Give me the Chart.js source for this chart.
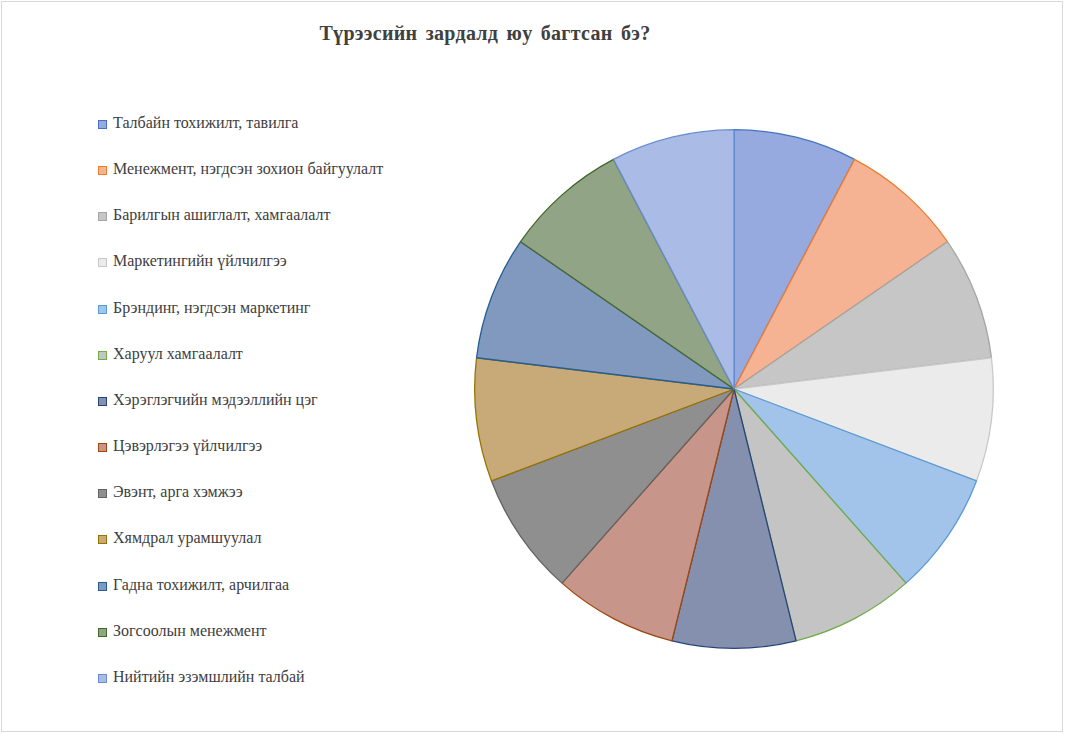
<!DOCTYPE html>
<html><head><meta charset="utf-8">
<script src="https://cdn.jsdelivr.net/npm/chart.js@4/dist/chart.umd.min.js"></script>
<style>
body{margin:0;background:#fff;}
#wrap{position:relative;width:1066px;height:735px;}
#frame{position:absolute;left:1px;top:1px;width:1062px;height:731px;border:1px solid #d9d9d9;box-sizing:border-box;}
#title{position:absolute;left:0;width:970px;top:22px;text-align:center;font:bold 20px "Liberation Serif";color:#404040;letter-spacing:0.3px;word-spacing:3px;}
#legend{position:absolute;left:98px;top:114px;font:16px "Liberation Serif";color:#404040;}
.li{height:46.17px;display:flex;align-items:flex-start;}
.sw{width:7px;height:7px;border:1px solid;margin-top:6px;margin-right:6px;}
canvas{position:absolute;left:0;top:0;}
</style></head><body>
<div id="wrap"><div id="frame"></div><div id="title">Түрээсийн  зардалд юу багтсан бэ?</div>
<div id="legend"></div><canvas id="c" width="1066" height="735"></canvas></div>
<script>
const categories=["Талбайн тохижилт, тавилга","Менежмент, нэгдсэн зохион байгуулалт","Барилгын ашиглалт, хамгаалалт","Маркетингийн үйлчилгээ","Брэндинг, нэгдсэн маркетинг","Харуул хамгаалалт","Хэрэглэгчийн мэдээллийн цэг","Цэвэрлэгээ үйлчилгээ","Эвэнт, арга хэмжээ","Хямдрал урамшуулал","Гадна тохижилт, арчилгаа","Зогсоолын менежмент","Нийтийн эзэмшлийн талбай"];
const values=[1,1,1,1,1,1,1,1,1,1,1,1,1];
const fills=["#97aadf","#f5b394","#c6c6c6","#ebebeb","#a3c4ea","#c4c4c4","#8590ae","#c8958a","#8f8f8f","#c8aa78","#8199bf","#91a486","#aabbe6"];
const borders=["#4472c4","#ed7d31","#a5a5a5","#c8c8c8","#5b9bd5","#70ad47","#264478","#9e480e","#636363","#997300","#255e91","#43682b","#698ed0"];
const lg=document.getElementById('legend');
categories.forEach((c,i)=>{const d=document.createElement('div');d.className='li';d.innerHTML=`<span class="sw" style="background:${fills[i]};border-color:${borders[i]}"></span><span>${c}</span>`;lg.appendChild(d);});
new Chart(document.getElementById('c'),{type:'pie',
data:{labels:categories,datasets:[{data:values,backgroundColor:fills,borderColor:borders,borderWidth:1.3}]},
options:{responsive:false,animation:false,layout:{padding:{left:402,right:0,top:129,bottom:86}},
plugins:{legend:{display:false},tooltip:{enabled:false}}}});
</script></body></html>
